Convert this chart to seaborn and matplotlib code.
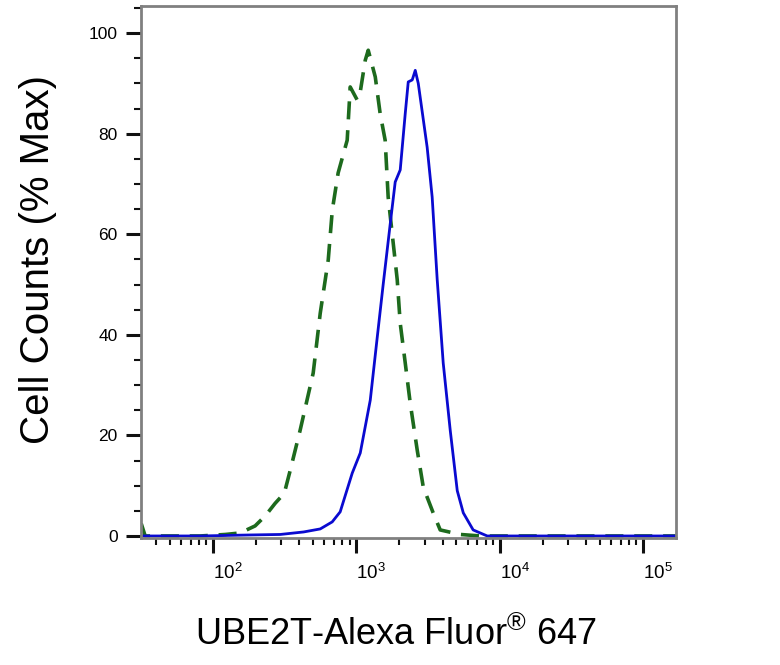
import matplotlib
matplotlib.use("Agg")
import matplotlib.pyplot as plt
import matplotlib.ticker as mticker
import seaborn as sns
import pandas as pd

# isotype control (green dashed) - intensity vs % max
control_x = [31.6, 33.7, 81.5, 122, 155, 197, 232, 272, 315, 346, 406, 501, 561,
             638, 681, 748, 865, 908, 1016, 1067, 1156, 1213, 1358, 1469, 1592,
             1671, 1811, 1932, 2028, 2198, 2382, 2667, 2938, 3443, 3855, 5321,
             7328, 171000]
control_y = [2.5, 0, 0, 0.3, 0.6, 2, 4, 6.5, 8.5, 13, 21, 32.4, 44.3,
             54.9, 64.8, 72.2, 78.7, 89.3, 86.7, 88.3, 94.6, 96.6, 91.3, 84, 78.7,
             67.4, 58.3, 51, 42.3, 34.4, 26.4, 17, 9.7, 4.6, 1.2, 0.3,
             0, 0]

# UBE2T stained sample (blue solid)
sample_x = [31.6, 81.5, 182, 295, 430, 561, 680, 773, 938, 1067, 1253, 1403,
            1542, 1726, 1871, 2028, 2198, 2307, 2460, 2582, 2710, 3126, 3388,
            3673, 4046, 4529, 5070, 5585, 6546, 8204, 171000]
sample_y = [0, 0, 0.2, 0.3, 0.8, 1.4, 2.8, 4.8, 12.5, 16.5, 27, 39.6,
            50, 62, 70.4, 72.8, 84, 90.3, 90.7, 92.6, 90, 77.3, 67.4,
            51, 34.4, 21, 9, 4.6, 1.2, 0, 0]

sns.set_style("white")
plt.rcParams['font.family'] = ['Liberation Sans', 'DejaVu Sans']
plt.rcParams['mathtext.fontset'] = 'custom'
plt.rcParams['mathtext.rm'] = 'Liberation Sans'
plt.rcParams['mathtext.default'] = 'regular'
plt.rcParams['text.color'] = 'black'
plt.rcParams['axes.labelcolor'] = 'black'
plt.rcParams['xtick.color'] = 'black'
plt.rcParams['ytick.color'] = 'black'

control = pd.DataFrame({'x': control_x, 'y': control_y})
sample = pd.DataFrame({'x': sample_x, 'y': sample_y})

fig = plt.figure(figsize=(7.8, 6.65), dpi=100)
ax = fig.add_axes([0.181, 0.191, 0.686, 0.800])

sns.lineplot(data=control, x='x', y='y', ax=ax, color='#1d6a1d',
             linewidth=2.6)
ax.lines[-1].set_dashes((5, 3))
sns.lineplot(data=sample, x='x', y='y', ax=ax, color='#0a0ad0', linewidth=2.0)

ax.set_xscale('log')
ax.set_xlim(31.6, 171000)
ax.set_ylim(-0.4, 105.4)

# axes frame
for s in ax.spines.values():
    s.set_color('#808080')
    s.set_linewidth(2)

ax.xaxis.set_major_locator(mticker.FixedLocator([1e2, 1e3, 1e4, 1e5]))
ax.xaxis.set_major_formatter(mticker.FixedFormatter(
    ['$10^{2}$', '$10^{3}$', '$10^{4}$', '$10^{5}$']))
ax.xaxis.set_minor_locator(mticker.LogLocator(base=10, subs=range(2, 10), numticks=20))
ax.xaxis.set_minor_formatter(mticker.NullFormatter())

ax.yaxis.set_major_locator(mticker.FixedLocator([0, 20, 40, 60, 80, 100]))
ax.yaxis.set_minor_locator(mticker.MultipleLocator(5))

ax.tick_params(axis='both', which='major', direction='out', length=11,
               width=2.2, color='#111111', labelsize=12.5, bottom=True, left=True)
ax.tick_params(axis='both', which='minor', direction='out', length=5,
               width=1.5, color='#111111', bottom=True, left=True)
ax.tick_params(axis='x', which='major', pad=7, labelsize=13.5)
ax.tick_params(axis='y', which='major', pad=6)
for lab in ax.get_xticklabels():
    lab.set_horizontalalignment('left')

ax.set_xlabel('UBE2T-Alexa Fluor$^{®}$ 647', fontsize=26)
ax.set_ylabel('Cell Counts (% Max)', fontsize=29)
ax.xaxis.set_label_coords(0.475, -0.148)
ax.yaxis.set_label_coords(-0.157, 0.523)

fig.savefig('out.png', dpi=100)
